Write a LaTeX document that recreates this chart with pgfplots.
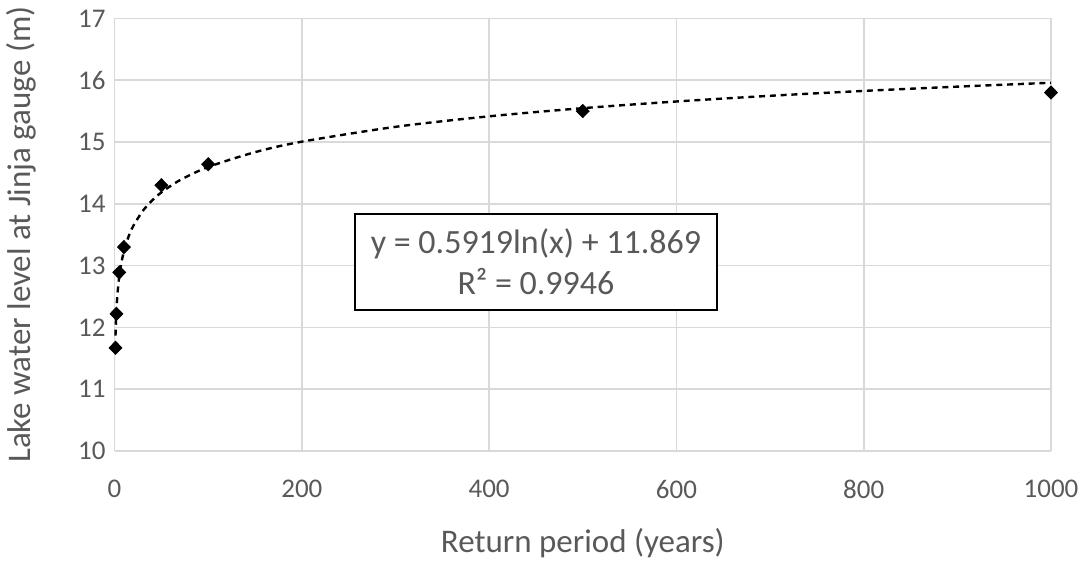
\documentclass[border=0pt]{standalone}
\usepackage{fontspec}
\setmainfont{Carlito}
\usepackage{pgfplots}
\pgfplotsset{compat=1.18}
\definecolor{txt}{HTML}{595959}
\definecolor{gridc}{HTML}{D9D9D9}
\begin{document}
\begin{tikzpicture}
\begin{axis}[
  scale only axis,
  width=468.5pt, height=216.5pt,
  xmin=0, xmax=1000, ymin=10, ymax=17,
  xtick={0,200,...,1000}, ytick={10,11,...,17},
  grid=major,
  major grid style={gridc, line width=0.8pt},
  axis line style={draw=none},
  tick style={draw=none},
  /pgf/number format/assume math mode=true,
  /pgf/number format/1000 sep={},
  ticklabel style={font=\fontsize{13.5}{16}\selectfont, text=txt},
  xticklabel style={yshift=-11pt},
  yticklabel style={xshift=-1pt},
  xlabel={Return period (years)},
  ylabel={Lake water level at Jinja gauge (m)},
  label style={font=\fontsize{16.5}{19}\selectfont, text=txt},
  xlabel style={yshift=-8pt},
  ylabel style={yshift=14pt},
  clip=false,
]
\addplot[black, line width=1.2pt, dash pattern=on 3pt off 2.4pt, smooth] coordinates {
(1,11.869) (1.5,12.109) (2,12.279) (3,12.519) (4,12.690) (5,12.822) (7,13.021)
(10,13.232) (15,13.472) (20,13.642) (30,13.882) (40,14.052) (50,14.185) (70,14.384)
(100,14.595) (150,14.835) (200,15.005) (300,15.245) (400,15.415) (500,15.547)
(600,15.655) (700,15.747) (800,15.826) (900,15.895) (1000,15.958)};
\addplot[only marks, mark=diamond*, mark size=3.3pt, black,
  mark options={xscale=1.3}] coordinates {
(1,11.67) (2,12.22) (5,12.89) (10,13.30) (50,14.30) (100,14.64) (500,15.50) (1000,15.80)};
\node[draw=black, line width=0.9pt, fill=white, align=center, text=txt,
  font=\fontsize{17}{20.5}\selectfont, minimum width=181pt, minimum height=48pt,
  inner sep=2pt] at (axis cs:450,13.06) {y = 0.5919ln(x) + 11.869\\R² = 0.9946};
\end{axis}
\end{tikzpicture}
\end{document}
